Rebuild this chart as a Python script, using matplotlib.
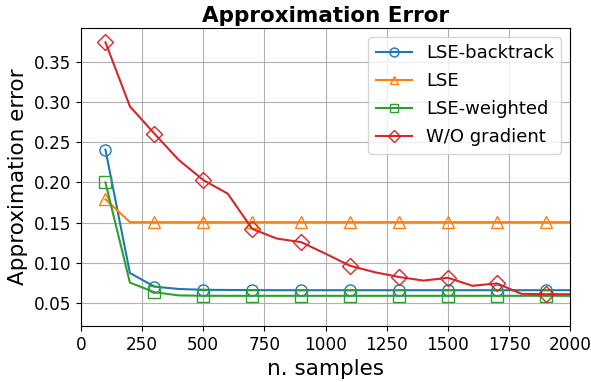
import matplotlib
matplotlib.use('Agg')
from matplotlib import pyplot as plt

# sample counts
n_samples = [100, 200, 300, 400, 500, 600, 700, 800, 900, 1000,
             1100, 1200, 1300, 1400, 1500, 1600, 1700, 1800, 1900, 2000]

lse_backtrack = [0.241, 0.087, 0.070, 0.067, 0.066, 0.0658, 0.0656, 0.0655, 0.0655, 0.0655,
                 0.0655, 0.0655, 0.0655, 0.0655, 0.0655, 0.0655, 0.0655, 0.0655, 0.0655, 0.0655]
lse = [0.179, 0.1505, 0.1505, 0.1505, 0.1505, 0.1505, 0.1505, 0.1505, 0.1505, 0.1505,
       0.1505, 0.1505, 0.1505, 0.1505, 0.1505, 0.1505, 0.1505, 0.1505, 0.1505, 0.1505]
lse_weighted = [0.200, 0.075, 0.063, 0.059, 0.0585, 0.0585, 0.0585, 0.0585, 0.0585, 0.0585,
                0.0585, 0.0585, 0.0585, 0.0585, 0.0585, 0.0585, 0.0585, 0.0585, 0.0585, 0.0585]
wo_gradient = [0.375, 0.295, 0.261, 0.228, 0.203, 0.186, 0.142, 0.130, 0.1255, 0.111,
               0.096, 0.088, 0.082, 0.0775, 0.081, 0.071, 0.074, 0.061, 0.0605, 0.0605]

labels = ['LSE-backtrack', 'LSE', 'LSE-weighted', 'W/O gradient']
markers = ['o', '^', 's', 'D']

fig, ax = plt.subplots(figsize=(5.91, 3.82), dpi=100)

for ys, lab, m in zip([lse_backtrack, lse, lse_weighted, wo_gradient], labels, markers):
    ax.plot(n_samples, ys, marker=m, markevery=2, markersize=8, fillstyle='none',
            linewidth=1.5, label=lab)

ax.set_xlim(0, 2000)
ax.set_ylim(0.021, 0.393)
ax.grid(True)
ax.set_title('Approximation Error', fontsize=15.5, fontweight='bold', pad=4)
ax.set_xlabel('n. samples', fontsize=15.5)
ax.set_ylabel('Approximation error', fontsize=15.5)
ax.tick_params(labelsize=12.2)
ax.legend(fontsize=13, markerscale=0.8, labelspacing=0.56, loc='upper right')

plt.subplots_adjust(left=0.137, right=0.965, top=0.927, bottom=0.147)
plt.savefig('out.png', dpi=100)
